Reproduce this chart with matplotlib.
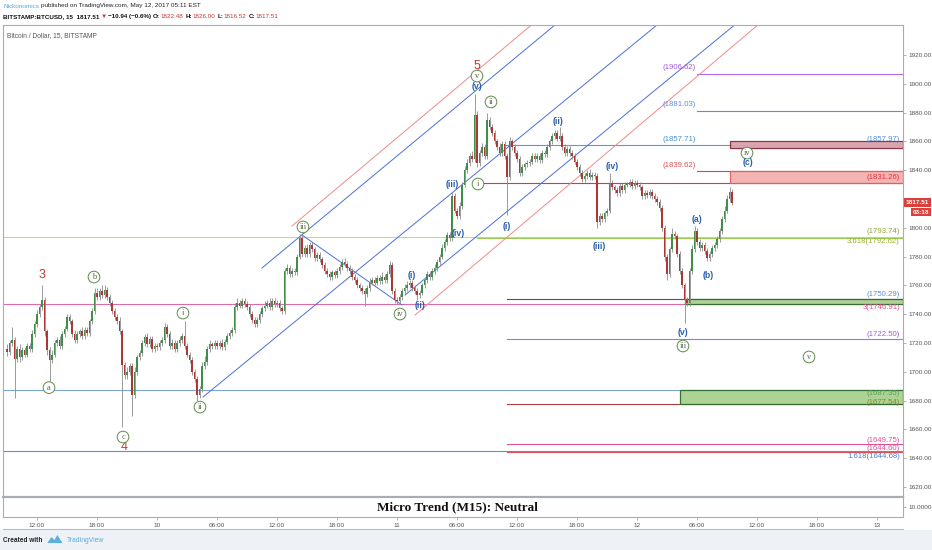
import matplotlib
matplotlib.use("Agg")
import matplotlib.pyplot as plt
import matplotlib.transforms as mtransforms
from matplotlib.patches import Rectangle, Polygon
import numpy as np

# ---------------- data ----------------
start_hour = 9.0          # hours since 2017-05-09 00:00, 15-minute bars
bar_step = 0.25
first_open = 1716

closes = [
    1714, 1720, 1722, 1709, 1716, 1710, 1715, 1712,
    1718, 1716, 1726, 1733, 1740, 1745, 1750, 1728,
    1715, 1708, 1712, 1720, 1722, 1718, 1726, 1730,
    1738, 1735, 1726, 1722, 1726, 1728, 1725, 1729,
    1727, 1735, 1742, 1755, 1752, 1756, 1753, 1757,
    1752, 1748, 1742, 1738, 1735, 1728, 1705, 1698,
    1700, 1704, 1684, 1700, 1710, 1713, 1720, 1724,
    1719, 1723, 1716, 1718, 1717, 1720, 1722, 1731,
    1726, 1718, 1720, 1716, 1720, 1722, 1725, 1718,
    1712, 1708, 1700, 1695, 1684, 1688, 1704, 1707,
    1716, 1719, 1718, 1720, 1718, 1720, 1717, 1721,
    1725, 1727, 1729, 1745, 1748, 1746, 1749, 1747,
    1745, 1740, 1736, 1733, 1736, 1740, 1744, 1746,
    1748, 1745, 1749, 1747, 1748, 1744, 1742, 1770,
    1772, 1768, 1770, 1769, 1780, 1793, 1782, 1786,
    1782, 1788, 1785, 1779, 1781, 1778, 1774, 1770,
    1768, 1766, 1769, 1767, 1770, 1773, 1776, 1775,
    1772, 1770, 1766, 1764, 1760, 1758, 1756, 1754,
    1758, 1762, 1764, 1762, 1765, 1763, 1766, 1764,
    1768, 1774, 1756, 1750, 1749, 1752, 1756, 1758,
    1760, 1762, 1758, 1756, 1753, 1755, 1760, 1764,
    1768, 1766, 1770, 1772, 1776, 1780, 1786, 1790,
    1795, 1793, 1822, 1812, 1808, 1815, 1830, 1840,
    1845, 1850, 1848, 1878, 1845, 1852, 1856, 1850,
    1875, 1870, 1866, 1860, 1856, 1852, 1858, 1850,
    1835, 1860, 1856, 1852, 1848, 1838, 1842, 1844,
    1845, 1846, 1850, 1848, 1850, 1847, 1852, 1851,
    1856, 1860, 1864, 1866, 1862, 1864, 1856, 1852,
    1855, 1852, 1850, 1846, 1842, 1838, 1834, 1836,
    1838, 1835, 1837, 1836, 1804, 1808, 1806, 1810,
    1812, 1831, 1828, 1826, 1824, 1829, 1826, 1830,
    1830, 1832, 1829, 1831, 1830, 1828, 1822, 1824,
    1823, 1825, 1822, 1820, 1818, 1814, 1800, 1780,
    1768, 1785, 1796, 1794, 1782, 1770, 1760, 1750,
    1748, 1770, 1785, 1798, 1790, 1786, 1788, 1784,
    1779, 1782, 1786, 1788, 1792, 1798, 1806, 1812,
    1820, 1825, 1817.51,
]

up_wick = [
    3, 2, 9, 2, 2, 3, 2, 2,
    2, 2, 3, 2, 3, 2, 10, 2,
    2, 2, 3, 2, 2, 3, 2, 2,
    2, 2, 2, 3, 2, 2, 3, 2,
    2, 2, 2, 3, 3, 2, 4, 3,
    2, 2, 2, 2, 2, 3, 2, 2,
    3, 2, 2, 3, 2, 2, 2, 2,
    3, 2, 2, 2, 2, 2, 2, 3,
    2, 2, 3, 2, 2, 3, 2, 10,
    2, 2, 2, 2, 2, 2, 3, 4,
    2, 3, 2, 2, 2, 2, 3, 2,
    2, 2, 2, 3, 3, 2, 2, 2,
    2, 2, 2, 2, 2, 2, 2, 3,
    2, 3, 2, 2, 2, 2, 2, 2,
    3, 2, 2, 2, 2, 3, 2, 2,
    3, 2, 2, 2, 2, 2, 2, 2,
    2, 2, 2, 2, 2, 2, 2, 3,
    2, 2, 2, 2, 2, 2, 2, 2,
    2, 3, 2, 2, 2, 2, 3, 2,
    2, 3, 2, 2, 2, 2, 2, 3,
    3, 2, 2, 2, 2, 2, 2, 2,
    2, 2, 2, 3, 2, 2, 3, 2,
    2, 2, 3, 2, 2, 3, 2, 3,
    3, 2, 3, 15, 3, 2, 3, 2,
    5, 2, 2, 2, 2, 3, 2, 2,
    2, 3, 2, 2, 2, 2, 2, 2,
    2, 2, 2, 2, 2, 2, 2, 2,
    2, 2, 2, 2, 2, 6, 2, 2,
    2, 2, 2, 2, 2, 2, 2, 2,
    2, 3, 2, 2, 2, 2, 2, 2,
    2, 7, 2, 2, 2, 2, 2, 2,
    2, 2, 2, 2, 2, 2, 2, 2,
    2, 2, 2, 2, 2, 2, 2, 2,
    2, 2, 4, 2, 2, 2, 2, 2,
    2, 2, 3, 3, 2, 2, 2, 2,
    2, 2, 2, 2, 2, 2, 2, 3,
    3, 3, 2,
]

dn_wick = [
    3, 2, 2, 27, 2, 3, 2, 2,
    2, 2, 2, 2, 2, 2, 2, 3,
    3, 17, 2, 2, 2, 2, 2, 2,
    2, 2, 2, 2, 2, 2, 2, 2,
    2, 2, 2, 2, 2, 2, 2, 2,
    2, 2, 2, 2, 2, 2, 43, 3,
    3, 2, 15, 2, 2, 2, 2, 2,
    2, 2, 2, 2, 2, 2, 2, 2,
    2, 2, 2, 2, 2, 2, 2, 2,
    2, 2, 2, 2, 4, 2, 2, 2,
    2, 2, 2, 2, 2, 2, 2, 2,
    2, 2, 2, 2, 2, 2, 2, 2,
    2, 2, 2, 2, 2, 2, 2, 2,
    2, 2, 2, 2, 2, 2, 2, 2,
    2, 2, 2, 2, 2, 2, 2, 2,
    2, 2, 2, 2, 2, 2, 2, 2,
    2, 2, 2, 2, 2, 2, 2, 2,
    2, 2, 2, 2, 2, 2, 2, 8,
    2, 2, 2, 2, 2, 2, 2, 2,
    2, 2, 2, 2, 2, 2, 2, 2,
    2, 2, 2, 2, 3, 2, 2, 2,
    2, 2, 2, 2, 2, 2, 2, 2,
    2, 2, 2, 2, 2, 2, 2, 2,
    2, 2, 2, 2, 3, 2, 2, 2,
    2, 2, 2, 2, 2, 2, 2, 2,
    26, 2, 2, 2, 2, 2, 2, 2,
    2, 2, 2, 2, 2, 2, 2, 2,
    2, 2, 2, 2, 2, 2, 2, 2,
    2, 2, 2, 2, 2, 2, 2, 2,
    2, 2, 2, 2, 4, 2, 2, 2,
    2, 2, 2, 2, 2, 2, 2, 2,
    2, 2, 2, 2, 2, 2, 2, 2,
    2, 2, 2, 2, 2, 2, 2, 3,
    4, 2, 2, 2, 2, 2, 2, 16,
    2, 2, 2, 2, 2, 2, 2, 2,
    2, 2, 2, 2, 2, 2, 2, 2,
    2, 2, 2,
]

price_ticks = [1620, 1640, 1660, 1680, 1700, 1720, 1740, 1760, 1780, 1800,
               1820, 1840, 1860, 1880, 1900, 1920]
time_tick_hours = [12, 18, 24, 30, 36, 42, 48, 54, 60, 66, 72, 78, 84, 90, 96]
time_tick_labels = ['12:00', '18:00', '10', '06:00', '12:00', '18:00', '11', '06:00',
                    '12:00', '18:00', '12', '06:00', '12:00', '18:00', '13']

# horizontal levels: price, start hour (None = whole chart), colour
level_prices = [1906.62, 1881.03, 1857.71, 1839.62, 1831.26, 1793.74, 1792.62,
                1750.29, 1746.91, 1722.50, 1687.35, 1677.54, 1649.75, 1644.60, 1644.68]
level_starts = [78.0, 78.0, 58.8, 78.0, 56.6, None, 56.0,
                59.0, None, 59.0, None, 59.0, 59.0, 59.0, None]
level_colors = ['#b36ae2', '#5b8ed6', '#4aa3d4', '#d9424a', '#e0353a', '#c8dc70', '#9cc955',
                '#555555', '#e06aa8', '#b56ae0', '#7aa6d8', '#b04040', '#e0509a', '#e05050', '#5b8ed6']

# zones: low, high, start hour, face, edge
zone_lows = [1855.4, 1831.26, 1746.91, 1677.54]
zone_highs = [1860.3, 1839.62, 1750.29, 1687.35]
zone_starts = [81.3, 81.3, 76.8, 76.3]
zone_faces = ['#d9a3ad', '#f3b0b0', '#a9d18e', '#a9d18e']
zone_edges = ['#8b2b3b', '#e06060', '#2e6b2e', '#2e6b2e']

# trend/channel lines ((hour, price), (hour, price))
blue_lines = [((28.6, 1682.5), (80.0, 1975.0)),
              ((34.5, 1772.1), (70.0, 1976.6)),
              ((48.8, 1753.3), (90.0, 1987.7)),
              ((38.5, 1795.0), (48.5, 1746.4))]
red_lines = [((37.5, 1801.25), (65.0, 1961.6)),
             ((49.8, 1739.4), (90.0, 1975.6))]

# wave labels (text, hour, price)
red_counts = [("3", 12.5, 1767.2), ("4", 20.7, 1647.8), ("5", 56.0, 1912.4)]
circled = [("a", 13.2, 1689.0), ("b", 17.7, 1765.8), ("c", 20.6, 1654.7),
           ("i", 26.6, 1740.8), ("ii", 28.3, 1675.5), ("iii", 38.6, 1800.6),
           ("iv", 48.3, 1740.1), ("v", 56.0, 1905.4), ("ii", 57.4, 1887.4),
           ("i", 56.1, 1830.4), ("iii", 76.6, 1717.9), ("iv", 83.0, 1851.9),
           ("v", 89.2, 1710.3)]
blue_counts = [("(i)", 49.5, 1767.0), ("(ii)", 50.3, 1745.7), ("(iii)", 53.5, 1830.4),
               ("(iv)", 54.1, 1795.7), ("(v)", 56.0, 1897.8), ("(i)", 59.0, 1800.6),
               ("(ii)", 64.1, 1873.5), ("(iii)", 68.2, 1786.7), ("(iv)", 69.5, 1842.9),
               ("(v)", 76.6, 1727.0), ("(a)", 78.0, 1806.0), ("(b)", 79.1, 1767.2),
               ("(c)", 83.1, 1845.0)]

right_labels = [("(1857.97)", 1861.0, '#5b8ed6'), ("(1831.26)", 1835.0, '#e0353a'),
                ("(1793.74)", 1797.4, '#8aa83a'), ("3.618(1792.62)", 1790.6, '#9ab42c'),
                ("(1750.29)", 1753.5, '#5b8ed6'), ("3(1746.91)", 1744.6, '#e0509a'),
                ("(1722.50)", 1725.7, '#a25bd6'), ("(1687.35)", 1684.6, '#5aa05a'),
                ("(1677.54)", 1679.0, '#8a8a2a'), ("(1649.75)", 1652.0, '#e0509a'),
                ("(1644.60)", 1647.0, '#e0509a'), ("1.618(1644.68)", 1640.9, '#4a7fd0')]
left_labels = [("(1906.62)", 1911.0, '#a25bd6'), ("(1881.03)", 1885.3, '#5b8ed6'),
               ("(1857.71)", 1861.0, '#4a90c8'), ("(1839.62)", 1843.0, '#e05050')]

last_price = 1817.51

# ---------------- figure ----------------
plt.rcParams['font.family'] = ['Liberation Sans Narrow', 'Liberation Sans', 'DejaVu Sans']
W, H = 932, 550
fig = plt.figure(figsize=(W / 100, H / 100), dpi=100, facecolor='white')
renderer = fig.canvas.get_renderer()

def fx(x): return x / W
def fy(y): return 1 - y / H

# bottom grey strip
fig.patches.append(Rectangle((0, 0), 1, fy(530), transform=fig.transFigure,
                             facecolor='#eef1f5', edgecolor='none', zorder=-5))

XMIN, XMAX = 8.6, 98.6
ax = fig.add_axes([fx(3), fy(497), (903 - 3) / W, (497 - 25) / H])
ax.set_xlim(XMIN, XMAX)
ax.set_ylim(1613.06, 1940.83)
ax.set_facecolor('white')
for s in ax.spines.values():
    s.set_color('#a8adb3')
    s.set_linewidth(0.8)
ax.spines['bottom'].set_linewidth(1.6)
ax.set_xticks([])
ax.yaxis.tick_right()
ax.set_yticks(price_ticks)
# the 1820 label is covered by the last-price tag on the original
ax.set_yticklabels(['' if v == 1820 else '%.2f' % v for v in price_ticks])
ax.tick_params(axis='y', length=2.5, width=0.5, colors='#8a8f95', labelsize=4.6,
               pad=1.5, labelcolor='#555555')

# candles
n = min(len(closes), len(up_wick), len(dn_wick))
c = np.array(closes[:n], dtype=float)
o = np.r_[first_open, c[:-1]]
t = start_hour + bar_step * np.arange(n)
hi = np.maximum(o, c) + np.array(up_wick[:n])
lo = np.minimum(o, c) - np.array(dn_wick[:n])
up = c >= o
ax.vlines(t, lo, hi, color='#8c8c8c', lw=0.6, zorder=3)
body = np.maximum(np.abs(c - o), 0.7)
ax.bar(t[up], body[up], bottom=o[up], width=0.18, color='#3f8f4a', zorder=4, linewidth=0)
ax.bar(t[~up], body[~up], bottom=c[~up], width=0.18, color='#b03636', zorder=4, linewidth=0)

# levels
for p, st, col in zip(level_prices, level_starts, level_colors):
    x0 = XMIN if st is None else st
    ax.plot([x0, XMAX], [p, p], color=col, lw=0.8, zorder=2)

# zones
for lo_, hi_, st, fc, ec in zip(zone_lows, zone_highs, zone_starts, zone_faces, zone_edges):
    ax.add_patch(Rectangle((st, lo_), XMAX - st, hi_ - lo_, facecolor=fc, edgecolor=ec,
                           lw=0.9, zorder=2.5, alpha=0.95))

# channels
for (a, b) in blue_lines:
    ax.plot([a[0], b[0]], [a[1], b[1]], color='#4a6fdc', lw=0.7, zorder=2)
for (a, b) in red_lines:
    ax.plot([a[0], b[0]], [a[1], b[1]], color='#f08a8a', lw=0.7, zorder=2)

# wave labels
for txt, h, p in red_counts:
    ax.text(h, p, txt, color='#c0392b', fontsize=9, ha='center', va='center', zorder=6,
            family=['Liberation Sans', 'DejaVu Sans'])
for txt, h, p in circled:
    ax.text(h, p, txt, color='#55663f', fontsize=6.0, ha='center', va='center', zorder=6,
            family=['Liberation Serif', 'DejaVu Serif'],
            bbox=dict(boxstyle='circle,pad=0.22', fc='white', ec='#5d8c4a', lw=0.7))
for txt, h, p in blue_counts:
    ax.text(h, p, txt, color='#2b5fad', fontsize=6.3, ha='center', va='center',
            fontweight='bold', zorder=6, family=['Liberation Sans', 'DejaVu Sans'])

# level labels
for txt, p, col in right_labels:
    ax.text(98.3, p, txt, color=col, fontsize=5.6, ha='right', va='center', zorder=6)
for txt, p, col in left_labels:
    ax.text(77.9, p, txt, color=col, fontsize=5.6, ha='right', va='center', zorder=6)

ax.text(0.0045, 0.985, "Bitcoin / Dollar, 15, BITSTAMP", transform=ax.transAxes,
        fontsize=4.8, color='#555555', ha='left', va='top')

# last price tags
trans = mtransforms.blended_transform_factory(ax.transAxes, ax.transData)
ax.text(1.003, last_price, "1817.51", transform=trans, fontsize=4.6, color='white',
        fontweight='bold', ha='left', va='center', zorder=7, clip_on=False,
        bbox=dict(boxstyle='square,pad=0.25', fc='#d9413a', ec='none'))
ax.text(1.011, last_price - 6.6, "03:18", transform=trans, fontsize=4.6, color='white',
        fontweight='bold', ha='left', va='center', zorder=7, clip_on=False,
        bbox=dict(boxstyle='square,pad=0.25', fc='#d9413a', ec='none'))

# indicator pane
ax2 = fig.add_axes([fx(3), fy(517), (903 - 3) / W, 20 / H])
ax2.set_xlim(XMIN, XMAX)
ax2.set_ylim(0, 20)
for s in ax2.spines.values():
    s.set_color('#a8adb3')
    s.set_linewidth(0.8)
ax2.yaxis.tick_right()
ax2.set_yticks([10])
ax2.set_yticklabels(['10.0000'])
ax2.tick_params(axis='y', length=2.5, width=0.5, colors='#8a8f95', labelsize=4.6,
                pad=1.5, labelcolor='#555555')
ax2.set_xticks(time_tick_hours)
ax2.set_xticklabels(time_tick_labels)
ax2.tick_params(axis='x', length=2, width=0.5, colors='#8a8f95', labelsize=4.6,
                pad=2.5, labelcolor='#555555')
ax2.text(0.505, 0.5, "Micro Trend (M15): Neutral", transform=ax2.transAxes,
         fontsize=9.5, fontweight='bold', ha='center', va='center', color='#111111',
         family=['Liberation Serif', 'DejaVu Serif'])

# time axis bottom border
fig.add_artist(plt.Line2D([fx(3), fx(903)], [fy(529), fy(529)], color='#b8bcc2', lw=0.8))


def chain(segments, x0, y, size):
    """Lay text segments one after another, left to right."""
    x = x0
    for txt, col, wt, gap in segments:
        tt = fig.text(fx(x + gap), fy(y), txt, color=col, fontsize=size, fontweight=wt,
                      ha='left', va='center')
        bb = tt.get_window_extent(renderer=renderer)
        x = bb.x1
    return x


# header
chain([("Nickonomics", '#4aa8e0', 'normal', 0),
       ("published on TradingView.com, May 12, 2017 05:11 EST", '#222222', 'normal', 1.6)],
      3, 6, 4.6)
chain([("BITSTAMP:BTCUSD, 15  1817.51", '#111111', 'bold', 0),
       ("\u25BC", '#d0312d', 'normal', 1.3),
       ("\u221210.94 (\u22120.6%)", '#111111', 'bold', 1.3),
       ("O:", '#111111', 'bold', 1.8),
       ("1822.48", '#d0312d', 'normal', 0.7),
       ("H:", '#111111', 'bold', 1.8),
       ("1826.00", '#d0312d', 'normal', 0.7),
       ("L:", '#111111', 'bold', 1.8),
       ("1816.52", '#d0312d', 'normal', 0.7),
       ("C:", '#111111', 'bold', 1.8),
       ("1817.51", '#d0312d', 'normal', 0.7)],
      3, 16.5, 4.5)

# footer
xe = chain([("Created with", '#222222', 'bold', 0)], 3, 540, 4.7)
lx = xe + 5
fig.patches.append(Polygon([[fx(lx), fy(543)], [fx(lx + 4), fy(537)], [fx(lx + 7), fy(540)],
                            [fx(lx + 10), fy(535)], [fx(lx + 15), fy(543)]],
                           closed=True, transform=fig.transFigure, facecolor='#5aaee0',
                           edgecolor='none'))
chain([("TradingView", '#5aaee0', 'normal', 0)], lx + 19, 540, 4.9)

fig.savefig("out.png", dpi=100, facecolor='white')
